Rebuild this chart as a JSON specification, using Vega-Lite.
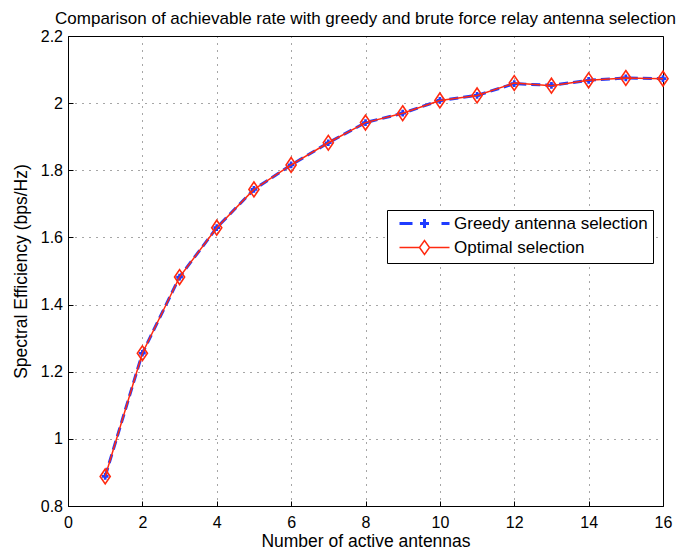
{
  "$schema": "https://vega.github.io/schema/vega-lite/v6.json",
  "width": 595,
  "height": 470,
  "autosize": "none",
  "padding": {"left": 68, "top": 36, "right": 19, "bottom": 49},
  "background": "white",
  "config": {
    "font": "Liberation Sans",
    "view": {"stroke": "black", "strokeWidth": 1},
    "axis": {
      "labelFont": "Liberation Sans",
      "labelFontSize": 16,
      "labelColor": "black",
      "labelFlush": false,
      "titleFont": "Liberation Sans",
      "titleFontSize": 17.5,
      "titleFontWeight": "normal",
      "titleColor": "black",
      "domain": false,
      "grid": true,
      "gridColor": "black",
      "gridDash": [1, 6],
      "gridOpacity": 0.7,
      "tickColor": "black",
      "tickSize": -5
    }
  },
  "title": {
    "text": "Comparison of achievable rate with greedy and brute force relay antenna selection",
    "font": "Liberation Sans",
    "fontSize": 17,
    "fontWeight": "normal",
    "color": "black",
    "frame": "group",
    "anchor": "middle",
    "baseline": "alphabetic",
    "offset": 0,
    "dy": 13
  },
  "data": {
    "values": [
      {"n": 1, "se": 0.888, "series": "Greedy antenna selection"},
      {"n": 2, "se": 1.255, "series": "Greedy antenna selection"},
      {"n": 3, "se": 1.482, "series": "Greedy antenna selection"},
      {"n": 4, "se": 1.629, "series": "Greedy antenna selection"},
      {"n": 5, "se": 1.743, "series": "Greedy antenna selection"},
      {"n": 6, "se": 1.816, "series": "Greedy antenna selection"},
      {"n": 7, "se": 1.882, "series": "Greedy antenna selection"},
      {"n": 8, "se": 1.942, "series": "Greedy antenna selection"},
      {"n": 9, "se": 1.970, "series": "Greedy antenna selection"},
      {"n": 10, "se": 2.008, "series": "Greedy antenna selection"},
      {"n": 11, "se": 2.023, "series": "Greedy antenna selection"},
      {"n": 12, "se": 2.058, "series": "Greedy antenna selection"},
      {"n": 13, "se": 2.053, "series": "Greedy antenna selection"},
      {"n": 14, "se": 2.068, "series": "Greedy antenna selection"},
      {"n": 15, "se": 2.075, "series": "Greedy antenna selection"},
      {"n": 16, "se": 2.073, "series": "Greedy antenna selection"},
      {"n": 1, "se": 0.888, "series": "Optimal selection"},
      {"n": 2, "se": 1.255, "series": "Optimal selection"},
      {"n": 3, "se": 1.482, "series": "Optimal selection"},
      {"n": 4, "se": 1.629, "series": "Optimal selection"},
      {"n": 5, "se": 1.743, "series": "Optimal selection"},
      {"n": 6, "se": 1.816, "series": "Optimal selection"},
      {"n": 7, "se": 1.882, "series": "Optimal selection"},
      {"n": 8, "se": 1.942, "series": "Optimal selection"},
      {"n": 9, "se": 1.970, "series": "Optimal selection"},
      {"n": 10, "se": 2.008, "series": "Optimal selection"},
      {"n": 11, "se": 2.023, "series": "Optimal selection"},
      {"n": 12, "se": 2.060, "series": "Optimal selection"},
      {"n": 13, "se": 2.052, "series": "Optimal selection"},
      {"n": 14, "se": 2.068, "series": "Optimal selection"},
      {"n": 15, "se": 2.075, "series": "Optimal selection"},
      {"n": 16, "se": 2.073, "series": "Optimal selection"}
    ]
  },
  "encoding": {
    "x": {
      "field": "n",
      "type": "quantitative",
      "scale": {"domain": [0, 16], "nice": false},
      "axis": {
        "values": [0, 2, 4, 6, 8, 10, 12, 14, 16],
        "title": "Number of active antennas",
        "labelPadding": 13,
        "titlePadding": 2
      }
    },
    "y": {
      "field": "se",
      "type": "quantitative",
      "scale": {"domain": [0.8, 2.2], "nice": false, "zero": false},
      "axis": {
        "values": [0.8, 1, 1.2, 1.4, 1.6, 1.8, 2, 2.2],
        "format": ".1~f",
        "title": "Spectral Efficiency (bps/Hz)",
        "labelPadding": 10.5,
        "titlePadding": 10
      }
    },
    "color": {
      "field": "series",
      "type": "nominal",
      "scale": {
        "domain": ["Greedy antenna selection", "Optimal selection"],
        "range": ["#1f3cff", "#ff2a10"]
      },
      "legend": {
        "title": null,
        "orient": "none",
        "legendX": 319,
        "legendY": 174,
        "strokeColor": "black",
        "fillColor": "white",
        "padding": 5,
        "labelFont": "Liberation Sans",
        "labelFontSize": 17,
        "labelColor": "black",
        "labelLimit": 0,
        "symbolSize": 100,
        "symbolOffset": 24,
        "labelOffset": 21,
        "rowPadding": 3,
        "encoding": {
          "symbols": {
            "shape": {"value": {"expr": "datum.value === 'Greedy antenna selection' ? 'M-5,0H-2.4M-0.9,0H0.9M0,-0.9V0.9M3.4,0H5' : 'M-5,0H-1L0,-1.4L1,0L0,1.4L-1,0M1,0H5'"}},
            "strokeWidth": {"value": {"expr": "datum.value === 'Greedy antenna selection' ? 3 : 1.5"}},
            "fill": {"value": "transparent"},
            "fillOpacity": {"value": 0},
            "opacity": {"value": 1}
          }
        }
      }
    }
  },
  "layer": [
    {
      "transform": [{"filter": "datum.series === 'Greedy antenna selection'"}],
      "mark": {"type": "line", "strokeDash": [9, 5], "strokeWidth": 3}
    },
    {
      "transform": [{"filter": "datum.series === 'Greedy antenna selection'"}],
      "mark": {"type": "point", "shape": "cross", "filled": true, "size": 45, "opacity": 1}
    },
    {
      "transform": [{"filter": "datum.series === 'Optimal selection'"}],
      "mark": {"type": "line", "strokeWidth": 1.5}
    },
    {
      "transform": [{"filter": "datum.series === 'Optimal selection'"}],
      "mark": {"type": "point", "shape": "M0,-1L0.68,0L0,1L-0.68,0Z", "filled": false, "size": 220, "strokeWidth": 1.6, "opacity": 1}
    }
  ]
}
